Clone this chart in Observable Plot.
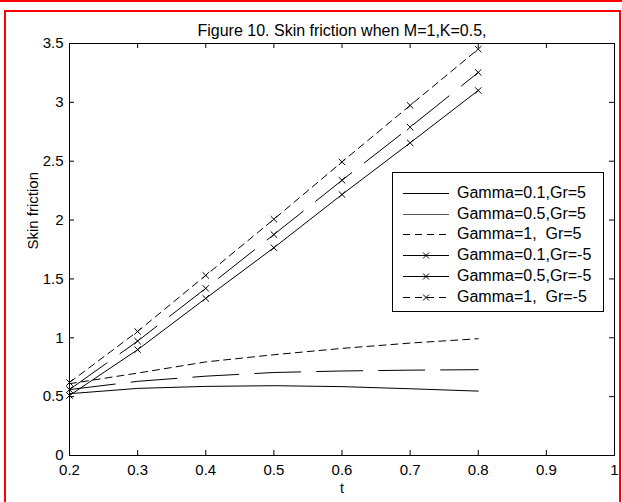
<!DOCTYPE html>
<html><head><meta charset="utf-8">
<script src="https://cdn.jsdelivr.net/npm/d3@7"></script>
<script src="https://cdn.jsdelivr.net/npm/@observablehq/plot@0.6"></script>
<style>
html,body{margin:0;padding:0;background:#fff;overflow:hidden;width:622px;height:502px}
#wrap{position:relative;width:622px;height:502px;font-family:"Liberation Sans",Arial,sans-serif}
#chart svg{display:block}
.redtop{position:absolute;left:0;top:0;width:622px;height:2px;background:#f00}
.redbox{position:absolute;left:4px;top:10px;width:617px;height:520px;border:2px solid #f00;box-sizing:border-box}
#legend{position:absolute;left:392px;top:172px;width:212px;height:140px;border:1px solid #000;background:#fff;box-sizing:border-box}
.row{position:absolute;left:0;height:20px;width:100%}
.row svg{position:absolute;left:10px;top:0}
.row span{position:absolute;left:64px;top:0;line-height:20px;font-size:16px;white-space:pre;color:#000}
</style></head>
<body><div id="wrap"><div id="chart"></div><div id="legend"></div><div class="redtop"></div><div class="redbox"></div></div>
<script>
const titleText = "Figure 10. Skin friction when M=1,K=0.5,";
const xLabel = "t";
const yLabel = "Skin friction";
const xTicks = [0.2, 0.3, 0.4, 0.5, 0.6, 0.7, 0.8, 0.9, 1];
const xTickLabels = ["0.2","0.3","0.4","0.5","0.6","0.7","0.8","0.9","1"];
const yTicks = [0, 0.5, 1, 1.5, 2, 2.5, 3, 3.5];
const yTickLabels = ["0","0.5","1","1.5","2","2.5","3","3.5"];
const legendLabels = ["Gamma=0.1,Gr=5","Gamma=0.5,Gr=5","Gamma=1,  Gr=5","Gamma=0.1,Gr=-5","Gamma=0.5,Gr=-5","Gamma=1,  Gr=-5"];
const tValues = [0.2, 0.3, 0.4, 0.5, 0.6, 0.7, 0.8];
const g01Gr5  = [0.525, 0.57, 0.587, 0.593, 0.585, 0.567, 0.547];
const g05Gr5  = [0.56, 0.63, 0.674, 0.705, 0.718, 0.725, 0.729];
const g1Gr5   = [0.61, 0.70, 0.795, 0.856, 0.91, 0.955, 0.992];
const g01GrM5 = [0.51, 0.899, 1.335, 1.765, 2.217, 2.656, 3.101];
const g05GrM5 = [0.56, 0.972, 1.42, 1.877, 2.338, 2.789, 3.254];
const g1GrM5  = [0.62, 1.054, 1.53, 2.007, 2.494, 2.974, 3.452];

const seriesValues = [g01Gr5, g05Gr5, g1Gr5, g01GrM5, g05GrM5, g1GrM5];
const dashes = [null, "46,16", "7,5", null, "46,16", "7,5"];
const hasMarker = [false, false, false, true, true, true];

const W = 622, H = 502, mt = 43, mb = 47, ml = 69, mr = 8;
const innerW = W - ml - mr, innerH = H - mt - mb;

const marks = [];
seriesValues.forEach((vals, i) => {
  const rows = tValues.map((t, j) => ({t, v: vals[j], s: legendLabels[i]}));
  marks.push(Plot.line(rows, {x: "t", y: "v", stroke: "black", strokeWidth: 1, strokeDasharray: dashes[i]}));
  if (hasMarker[i]) marks.push(Plot.dot(rows, {x: "t", y: "v", symbol: "times", r: 3, stroke: "black", strokeWidth: 1}));
});

const chart = Plot.plot({
  width: W, height: H,
  marginTop: mt, marginBottom: mb, marginLeft: ml, marginRight: mr,
  style: {fontFamily: "'Liberation Sans', Arial, sans-serif", fontSize: "15px", color: "black", background: "transparent"},
  x: {domain: [0.2, 1]},
  y: {domain: [0, 3.5]},
  marks: [
    Plot.frame({stroke: "black", strokeWidth: 1}),
    Plot.tickX(xTicks, {x: d => d, insetTop: innerH - 5, stroke: "black"}),
    Plot.tickX(xTicks, {x: d => d, insetBottom: innerH - 5, stroke: "black"}),
    Plot.tickY(yTicks, {y: d => d, insetRight: innerW - 5, stroke: "black"}),
    Plot.tickY(yTicks, {y: d => d, insetLeft: innerW - 5, stroke: "black"}),
    Plot.axisX(xTicks, {tickSize: 0, tickPadding: 9, label: null, fontSize: 15, tickFormat: d => xTickLabels[xTicks.indexOf(d)]}),
    Plot.axisY(yTicks, {tickSize: 0, tickPadding: 6, label: null, fontSize: 15, tickFormat: d => yTickLabels[yTicks.indexOf(d)]}),
    ...marks,
    Plot.text([titleText], {frameAnchor: "top", dy: -19, fontSize: 16, fill: "black"}),
    Plot.text([xLabel], {frameAnchor: "bottom", dy: 37, fontSize: 14, fill: "black"}),
    Plot.text([yLabel], {frameAnchor: "left", dx: -36, rotate: -90, fontSize: 15, fill: "black"})
  ]
});
document.getElementById("chart").appendChild(chart);

// legend
const leg = document.getElementById("legend");
legendLabels.forEach((lab, i) => {
  const row = document.createElement("div");
  row.className = "row";
  row.style.top = (10 + i * 20.7) + "px";
  const ns = "http://www.w3.org/2000/svg";
  const svg = document.createElementNS(ns, "svg");
  svg.setAttribute("width", 48); svg.setAttribute("height", 20);
  const ln = document.createElementNS(ns, "line");
  ln.setAttribute("x1", 0); ln.setAttribute("x2", 46); ln.setAttribute("y1", 10.5); ln.setAttribute("y2", 10.5);
  ln.setAttribute("stroke", i === 1 ? "#555" : "black"); ln.setAttribute("stroke-width", 1);
  if (dashes[i] === "7,5") ln.setAttribute("stroke-dasharray", "7,5");
  svg.appendChild(ln);
  if (hasMarker[i]) {
    const p = document.createElementNS(ns, "path");
    p.setAttribute("d", "M20,7.5L26,13.5M26,7.5L20,13.5");
    p.setAttribute("stroke", "black"); p.setAttribute("stroke-width", 1);
    svg.appendChild(p);
  }
  row.appendChild(svg);
  const sp = document.createElement("span");
  sp.textContent = lab;
  row.appendChild(sp);
  leg.appendChild(row);
});
</script></body></html>
